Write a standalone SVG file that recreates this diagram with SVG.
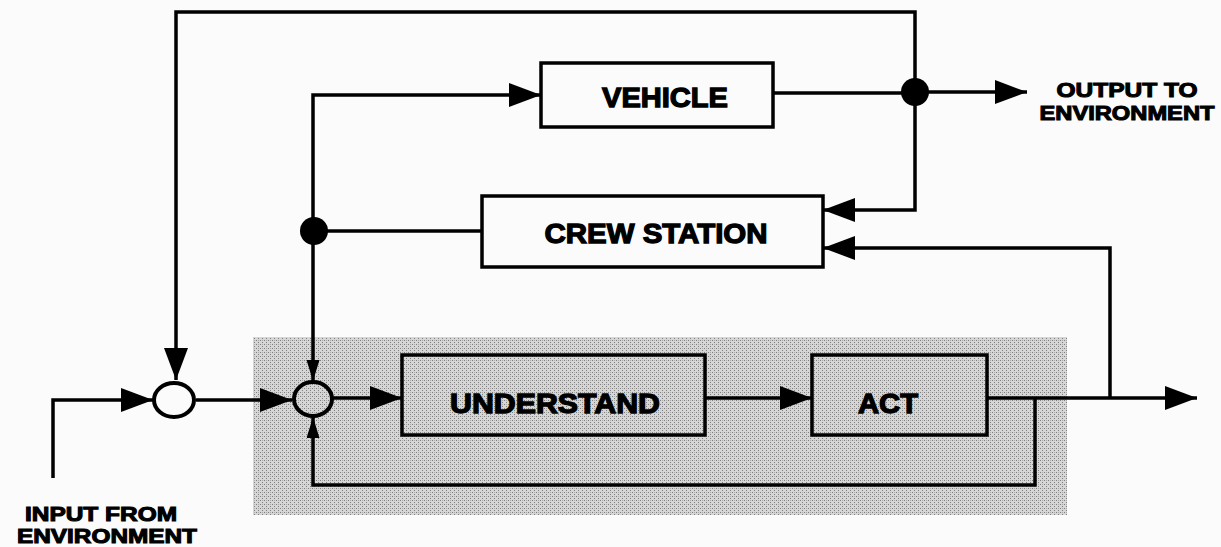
<svg xmlns="http://www.w3.org/2000/svg" width="1221" height="547" viewBox="0 0 1221 547">
<style>
.ln{fill:none;stroke:#000;stroke-width:3.5}
.box{fill:#fbfbfb;stroke:#000;stroke-width:3.5}
.sbox{fill:none;stroke:#000;stroke-width:3.5}
.sum{stroke:#000;stroke-width:4}
.big{font-family:"Liberation Sans",Arial,sans-serif;font-weight:bold;font-size:28px;text-anchor:middle;fill:#000;stroke:#000;stroke-width:1.3}
.lbl{font-family:"Liberation Sans",Arial,sans-serif;font-weight:bold;font-size:21px;text-anchor:middle;fill:#000;stroke:#000;stroke-width:1.1}
</style>
<defs>
<pattern id="stip" width="4" height="4" patternUnits="userSpaceOnUse">
<rect width="4" height="4" fill="#d6d6d6"/>
<rect x="0" y="0" width="1" height="1" fill="#7e7e7e"/>
<rect x="2" y="2" width="1" height="1" fill="#7e7e7e"/>
<rect x="2" y="0" width="1" height="1" fill="#aaaaaa"/>
</pattern>
<marker id="ah" markerUnits="userSpaceOnUse" markerWidth="33" markerHeight="25" refX="32" refY="12" orient="auto">
<path d="M0,0 L32,12 L0,24 Z" fill="#000"/>
</marker>
<marker id="as" markerUnits="userSpaceOnUse" markerWidth="22" markerHeight="14" refX="21" refY="6.5" orient="auto">
<path d="M0,0 L21,6.5 L0,13 Z" fill="#000"/>
</marker>
</defs>
<rect width="1221" height="547" fill="#fbfbfb"/>
<rect id="shade" x="253" y="337" width="814" height="178" fill="url(#stip)"/>

<g id="connectors">
<path class="ln" d="M915,92 V12 H176 V380" marker-end="url(#ah)"/>
<path class="ln" d="M773,93 H915"/>
<path class="ln" d="M915,92 H1027" marker-end="url(#ah)"/>
<path class="ln" d="M915,92 V210 H823" marker-end="url(#ah)"/>
<path class="ln" d="M1110,398 V248 H823" marker-end="url(#ah)"/>
<path class="ln" d="M482,231 H313"/>
<path class="ln" d="M313,231 V95 H541" marker-end="url(#ah)"/>
<path class="ln" d="M313,231 V381" marker-end="url(#as)"/>
<path class="ln" d="M53,478 V400 H153" marker-end="url(#ah)"/>
<path class="ln" d="M196,400 H292" marker-end="url(#ah)"/>
<path class="ln" d="M333,398 H402" marker-end="url(#ah)"/>
<path class="ln" d="M705,398 H812" marker-end="url(#ah)"/>
<path class="ln" d="M987,398 H1197" marker-end="url(#ah)"/>
<path class="ln" d="M1035,398 V485 H313 V417" marker-end="url(#as)"/>
<circle cx="915" cy="92" r="14" fill="#000"/>
<circle cx="314" cy="231" r="14" fill="#000"/>
</g>

<g id="vehicle">
<rect class="box" x="541" y="63" width="232" height="64"/>
<text class="big" x="665" y="107" textLength="126" lengthAdjust="spacingAndGlyphs">VEHICLE</text>
</g>
<g id="crew-station">
<rect class="box" x="482" y="196" width="341" height="71"/>
<text class="big" x="656" y="243" textLength="223" lengthAdjust="spacingAndGlyphs">CREW STATION</text>
</g>
<g id="sum1">
<ellipse class="sum" cx="174" cy="400" rx="20" ry="17" fill="#fbfbfb"/>
</g>
<g id="sum2">
<ellipse class="sum" cx="313" cy="399" rx="19" ry="17" fill="none"/>
</g>
<g id="understand">
<rect class="sbox" x="402" y="355" width="303" height="80"/>
<text class="big" x="555" y="413" textLength="210" lengthAdjust="spacingAndGlyphs">UNDERSTAND</text>
</g>
<g id="act">
<rect class="sbox" x="812" y="355" width="175" height="80"/>
<text class="big" x="888" y="413" textLength="60" lengthAdjust="spacingAndGlyphs">ACT</text>
</g>
<g id="output-label">
<text class="lbl" x="1127" y="97" textLength="141" lengthAdjust="spacingAndGlyphs">OUTPUT TO</text>
<text class="lbl" x="1127" y="120" textLength="175" lengthAdjust="spacingAndGlyphs">ENVIRONMENT</text>
</g>
<g id="input-label">
<text class="lbl" x="101" y="521" textLength="152" lengthAdjust="spacingAndGlyphs">INPUT FROM</text>
<text class="lbl" x="107" y="543" textLength="180" lengthAdjust="spacingAndGlyphs">ENVIRONMENT</text>
</g>
</svg>
